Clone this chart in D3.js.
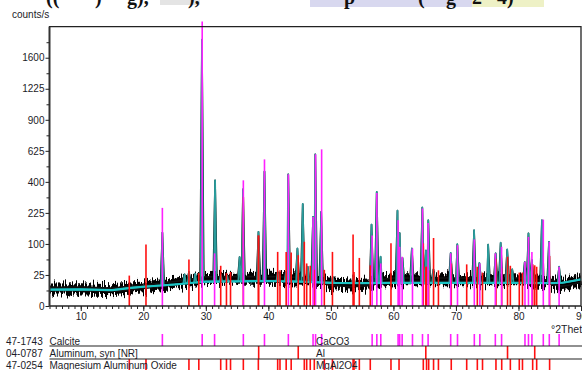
<!DOCTYPE html>
<html><head><meta charset="utf-8">
<script src="https://cdn.jsdelivr.net/npm/d3@7"></script>
<style>
body{margin:0;background:#fff;overflow:hidden}
svg{display:block}
text{font-family:"Liberation Sans",Arial,sans-serif;fill:#1c1c28}
</style>
</head><body>
<svg id="c" width="582" height="370"></svg>
<script>
// ---------- data ----------
const xTickLabels = [10,20,30,40,50,60,70,80,90];
const yTickLabels = [0,25,100,225,400,625,900,1225,1600];

// calculated background (counts/s)
const bgTheta  = [5,10,15,18,20,25,28,30,35,40,45,50,55,60,65,70,75,80,85,87,88,90];
const bgCounts = [7,7.2,6.6,8.5,9.6,12,14,15.3,15.8,16.2,15.5,14,13.6,14,14,14,14,14,13.6,14,15.3,18.4];

// observed background level (centre of the noisy trace)
const obsTheta  = [5,10,15,18,20,25,28,30,35,40,45,48,50,53,56,58,60,65,70,75,80,85,87,88,90];
const obsCounts = [7.5,7.8,6.8,8.5,9.5,13.5,17,19.5,20,20,19,17,13,11.5,12.5,16,18,18,18,18,18,15,12,13,17];

// observed / fitted peaks
const peakTheta  = [23.05,26.6,27.3,28.3,29.38,31.48,32.4,33.4,35.4,35.95,38.42,39.38,41.5,42.8,43.18,44.65,45.5,46.3,47.15,47.5,48.45,50.3,53.6,56.5,57.33,57.95,60.65,61.0,61.45,62.95,64.62,65.2,65.58,66.4,69.16,70.22,72.9,73.75,75.15,76.35,77.15,78.2,79.0,81.0,81.6,82.15,83.75,84.88,86.5];
const peakCounts = [140,26,30,27,1840,410,25,24,62,354,143,470,30,30,450,86,270,40,206,597,230,22,25,172,338,63,236,138,60,86,252,80,191,35,73,99,149,48,98,72,104,83,35,50,137,55,191,107,40];

// reference patterns (stick positions and intensities)
const calciteTheta  = [23.05,29.42,31.40,36.0,39.38,43.2,47.15,47.55,48.52,56.6,57.35,57.98,60.75,61.0,61.4,63.05,64.65,65.55,69.16,70.25,72.94,73.82,76.3,77.3,81.04,81.6,82.15,83.97,84.93,86.5];
const calciteCounts = [250,2100,72,410,558,450,206,597,637,129,332,47,191,91,63,86,247,179,72,96,115,47,72,91,51,124,76,194,107,40];
const aluminumTheta  = [38.45,44.78,65.18,78.25,82.6];
const aluminumCounts = [129,67,40,63,43];
const spinelTheta  = [17.76,20.43,27.3,28.88,32.38,33.3,33.95,36.0,38.4,41.49,41.86,42.85,43.65,45.75,46.13,46.7,47.35,48.95,50.25,53.55,53.7,54.55,56.3,59.61,60.9,64.78,65.3,65.64,66.42,67.2,69.25,71.72,73.42,74.25,76.4,77.32,78.7,80.13,80.64,82.27,82.91,84.98];
const spinelCounts = [24,98,56,28,42,28,30,309,129,76,33,76,74,107,47,42,34,34,76,133,30,60,43,102,47,102,40,33,120,33,47,45,40,29,58,37,42,29,29,45,40,65];

const phaseCodes    = ["47-1743","04-0787","47-0254"];
const phaseNames    = ["Calcite","Aluminum, syn [NR]","Magnesium Aluminum Oxide"];
const phaseFormulas = ["CaCO3","Al","MgAl2O4"];
const phaseColors   = ["#ff20ff","#ff1010","#ff1010"];

// ---------- drawing ----------
const svg = d3.select("#c");
const x = d3.scaleLinear().domain([5,90]).range([49.5,581]);
const y = d3.scaleSqrt().domain([0,2025]).range([306,26.7]);
const bgAt  = d3.scaleLinear().domain(bgTheta).range(bgCounts);
const obsAt = d3.scaleLinear().domain(obsTheta).range(obsCounts);

// cropped document text above the chart
svg.append("rect").attr("x",160).attr("y",0).attr("width",40).attr("height",5).attr("fill","#e4e4e4");
svg.append("rect").attr("x",310).attr("y",0).attr("width",162).attr("height",7).attr("fill","#d8d8ef");
svg.append("rect").attr("x",472).attr("y",0).attr("width",72).attr("height",7).attr("fill","#eef1c6");
const topBits = [["((",46],[")",95],["g),",127],["),",188],["p",344],["(",418],["g",446],["2",472],["4)",497]];
svg.append("g").selectAll("text").data(topBits).join("text")
  .attr("x",d=>d[1]).attr("y",4).text(d=>d[0])
  .style("font-family","'Liberation Serif',serif").style("font-weight","bold").style("font-size","20px").style("fill","#111");

// noise filter
const defs = svg.append("defs");
const f = defs.append("filter").attr("id","noise").attr("filterUnits","userSpaceOnUse")
  .attr("x",40).attr("y",240).attr("width",550).attr("height",80);
f.append("feTurbulence").attr("type","fractalNoise").attr("baseFrequency","0.9 0.05").attr("numOctaves",2).attr("seed",7).attr("result","t");
f.append("feColorMatrix").attr("in","t").attr("type","matrix")
  .attr("values","0 0 0 0 0.5  0 1 0 0 0  0 0 0 0 0  0 0 0 0 1").attr("result","m");
f.append("feDisplacementMap").attr("in","SourceGraphic").attr("in2","m").attr("scale",18)
  .attr("xChannelSelector","R").attr("yChannelSelector","G");

const line = d3.line().x(d=>x(d[0])).y(d=>y(d[1]));
const obsPts = obsTheta.map((t,i)=>[t,obsCounts[i]]);
const bgPts  = bgTheta.map((t,i)=>[t,bgCounts[i]]);

// noisy observed band
svg.append("path").attr("d",line(obsPts)).attr("fill","none")
  .attr("stroke","#000").attr("stroke-width",11).attr("filter","url(#noise)");
svg.append("path").attr("d",line(obsPts)).attr("fill","none")
  .attr("stroke","#111").attr("stroke-width",5);

function profile(basePts, baseAt, w){
  const pts = basePts.slice();
  peakTheta.forEach((t,i)=>{
    pts.push([t-w, baseAt(t-w)]);
    pts.push([t, peakCounts[i]]);
    pts.push([t+w, baseAt(t+w)]);
  });
  pts.sort((a,b)=>a[0]-b[0]);
  return pts;
}
// observed trace with peaks
svg.append("path").attr("d",line(profile(obsPts,obsAt,0.3))).attr("fill","none")
  .attr("stroke","#000").attr("stroke-width",1.6).attr("stroke-linejoin","round");
// calculated profile
svg.append("path").attr("d",line(profile(bgPts,bgAt,0.2))).attr("fill","none")
  .attr("stroke","#2a9c9c").attr("stroke-width",1.8).attr("stroke-linejoin","round");
svg.append("path").attr("d",line(bgPts)).attr("fill","none")
  .attr("stroke","#1cc4c4").attr("stroke-width",2.2);

// sticks in plot
function sticks(th, ct, color){
  svg.append("g").selectAll("line").data(th).join("line")
    .attr("x1",d=>x(d)).attr("x2",d=>x(d))
    .attr("y1",y(0)).attr("y2",(d,i)=>y(ct[i]))
    .attr("stroke",color).attr("stroke-width",1.6);
}
sticks(spinelTheta, spinelCounts, phaseColors[2]);
sticks(aluminumTheta, aluminumCounts, phaseColors[1]);
sticks(calciteTheta, calciteCounts, phaseColors[0]);

// frame
svg.append("path").attr("d",`M${x(5)},${y(0)}V${y(2025)}H${x(90)}V${y(0)}`)
  .attr("fill","none").attr("stroke","#222").attr("stroke-width",1.3);
svg.append("line").attr("x1",x(5)).attr("x2",x(90)).attr("y1",y(0)).attr("y2",y(0))
  .attr("stroke","#222").attr("stroke-width",1.5);
svg.append("line").attr("x1",x(5)).attr("x2",x(5)).attr("y1",y(0)).attr("y2",y(2025))
  .attr("stroke","#333").attr("stroke-width",1.8);

// x axis
const xMinor = d3.range(5,91,1);
svg.append("g").attr("transform",`translate(0,${y(0)})`)
  .call(d3.axisBottom(x).tickValues(xMinor).tickSize(3).tickFormat(""))
  .call(g=>{g.select(".domain").remove(); g.selectAll("line").attr("stroke","#222");});
svg.append("g").attr("transform",`translate(0,${y(0)})`)
  .call(d3.axisBottom(x).tickValues(xTickLabels).tickSize(5).tickPadding(2).tickFormat(d3.format("d")))
  .call(g=>{g.select(".domain").remove(); g.selectAll("line").attr("stroke","#222");
    g.selectAll("text").style("font-size","10px").style("fill","#1c1c28");});

// y axis
const yMinor = d3.range(2.5,45,5).map(s=>s*s);
svg.append("g").attr("transform",`translate(${x(5)},0)`)
  .call(d3.axisLeft(y).tickValues(yMinor).tickSize(3).tickFormat(""))
  .call(g=>{g.select(".domain").remove(); g.selectAll("line").attr("stroke","#222");});
svg.append("g").attr("transform",`translate(${x(5)},0)`)
  .call(d3.axisLeft(y).tickValues(yTickLabels).tickSize(4).tickPadding(1).tickFormat(d3.format("d")))
  .call(g=>{g.select(".domain").remove(); g.selectAll("line").attr("stroke","#222");
    g.selectAll("text").style("font-size","10px").style("fill","#1c1c28");});

svg.append("text").attr("x",12).attr("y",18).style("font-size","10px").text("counts/s");
svg.append("text").attr("x",551).attr("y",333).style("font-size","10.5px").text("°2Theta");

// phase rows
const rowTop = [334,346,359], rowBot = [346,359,371], rowBase = [344.5,356.5,368.5];
const rowTheta = [calciteTheta, aluminumTheta, spinelTheta];
rowTheta.forEach((th,r)=>{
  svg.append("g").selectAll("line").data(th).join("line")
    .attr("x1",d=>x(d)).attr("x2",d=>x(d)).attr("y1",rowTop[r]).attr("y2",rowBot[r])
    .attr("stroke",phaseColors[r]).attr("stroke-width",1.6);
});
[346,359].forEach(yy=>svg.append("line").attr("x1",x(5)).attr("x2",582).attr("y1",yy).attr("y2",yy)
  .attr("stroke","#222").attr("stroke-width",1.2));
phaseCodes.forEach((c,r)=>{
  svg.append("text").attr("x",6).attr("y",rowBase[r]).style("font-size","10px").text(c);
  svg.append("text").attr("x",49.5).attr("y",rowBase[r]).style("font-size","10px").text(phaseNames[r]);
  svg.append("text").attr("x",316).attr("y",rowBase[r]).style("font-size","10px").text(phaseFormulas[r]);
});
</script>
</body></html>
